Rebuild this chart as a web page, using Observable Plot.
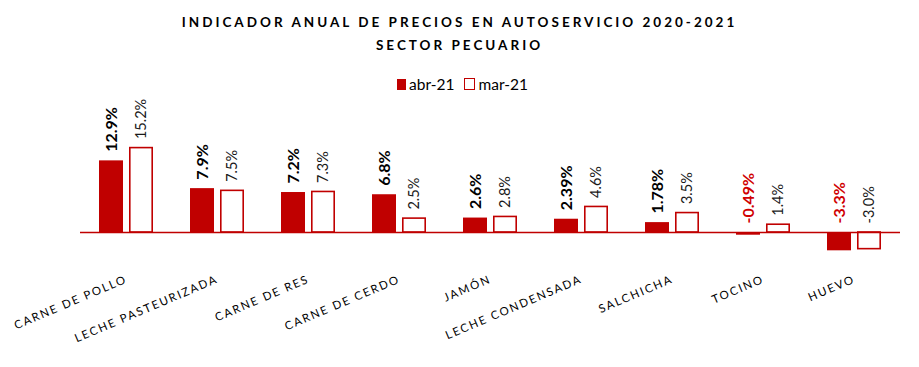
<!DOCTYPE html>
<html>
<head>
<meta charset="utf-8">
<script src="https://cdn.jsdelivr.net/npm/d3@7"></script>
<script src="https://cdn.jsdelivr.net/npm/@observablehq/plot@0.6"></script>
<style>
  html, body { margin: 0; padding: 0; background: #fff; }
  body { width: 919px; height: 367px; overflow: hidden; font-family: Lato, "Open Sans", sans-serif; }
  #title { text-align: center; font-weight: bold; font-size: 13.5px; letter-spacing: 3px; line-height: 23px; padding-top: 11px; color: #000; }
  #legend { display: flex; justify-content: center; align-items: center; gap: 10px; height: 22px; margin-top: 16px; margin-left: 6px; font-size: 15.5px; color: #000; }
  #legend .item { display: flex; align-items: center; gap: 3px; }
  #legend .sw { width: 9px; height: 11px; box-sizing: border-box; }
  #chart svg { display: block; }
  #chart svg [aria-label="x-axis tick label"] text { letter-spacing: 1.8px; }
  #chart svg .lblA text { font-size: 16px; font-weight: bold; }
  #chart svg .lblM text { font-size: 14.5px; }
</style>
</head>
<body>
<div id="title">INDICADOR ANUAL DE PRECIOS EN AUTOSERVICIO 2020-2021<br>SECTOR PECUARIO</div>
<div id="legend"></div>
<div id="chart"></div>
<script>
const categories = ["CARNE DE POLLO", "LECHE PASTEURIZADA", "CARNE DE RES", "CARNE DE CERDO", "JAMÓN", "LECHE CONDENSADA", "SALCHICHA", "TOCINO", "HUEVO"];
const seriesNames = ["abr-21", "mar-21"];
const abr21 = [12.9, 7.9, 7.2, 6.8, 2.6, 2.39, 1.78, -0.49, -3.3];
const mar21 = [15.2, 7.5, 7.3, 2.5, 2.8, 4.6, 3.5, 1.4, -3.0];
const abr21Labels = ["12.9%", "7.9%", "7.2%", "6.8%", "2.6%", "2.39%", "1.78%", "-0.49%", "-3.3%"];
const mar21Labels = ["15.2%", "7.5%", "7.3%", "2.5%", "2.8%", "4.6%", "3.5%", "1.4%", "-3.0%"];

const RED = "#C00000";

const dataAbr = categories.map((c, i) => ({cat: c, value: abr21[i], label: abr21Labels[i]}));
const dataMar = categories.map((c, i) => ({cat: c, value: mar21[i], label: mar21Labels[i]}));

// legend
const legend = document.getElementById("legend");
seriesNames.forEach((s, i) => {
  const item = document.createElement("div");
  item.className = "item";
  const sw = document.createElement("div");
  sw.className = "sw";
  if (i === 0) { sw.style.background = RED; }
  else { sw.style.border = "1.6px solid " + RED; sw.style.width = "11px"; sw.style.height = "12px"; }
  const t = document.createElement("span");
  t.textContent = s;
  item.appendChild(sw); item.appendChild(t);
  legend.appendChild(item);
});

const W = 919, H = 272;
const chart = Plot.plot({
  width: W,
  height: H,
  marginLeft: 80,
  marginRight: 19,
  marginTop: 31.5,
  marginBottom: 112.8,
  style: {fontFamily: "Lato, 'Open Sans', sans-serif", background: "#fff"},
  x: {domain: categories, paddingInner: 0.407, paddingOuter: 0.2035, axis: null},
  y: {domain: [-4, 19], axis: null},
  marks: [
    Plot.barY(dataAbr, {x: "cat", y: "value", fill: RED, insetRight: 30}),
    Plot.barY(dataMar, {x: "cat", y: "value", fill: "#fff", stroke: RED, strokeWidth: 1.6, insetLeft: 30.8, insetRight: 0.8}),
    Plot.ruleY([0], {stroke: RED, strokeWidth: 1.6}),
    Plot.text(dataAbr, {x: "cat", y: d => Math.max(0, d.value), text: "label", dx: -15, dy: -9,
      rotate: -90, textAnchor: "start", lineAnchor: "middle", fontWeight: "bold", fontSize: 16, className: "lblA",
      fill: d => d.value < 0 ? "#D00000" : "#000"}),
    Plot.text(dataMar, {x: "cat", y: d => Math.max(0, d.value), text: "label", dx: 15, dy: -9,
      rotate: -90, textAnchor: "start", lineAnchor: "middle", fontSize: 14.5, className: "lblM", fill: "#1a1a1a"}),
    Plot.axisX({anchor: "bottom", tickSize: 0, tickPadding: 24, tickRotate: -23, fontSize: 11.5, fill: "#000", label: null})
  ]
});
document.getElementById("chart").appendChild(chart);
</script>
</body>
</html>
